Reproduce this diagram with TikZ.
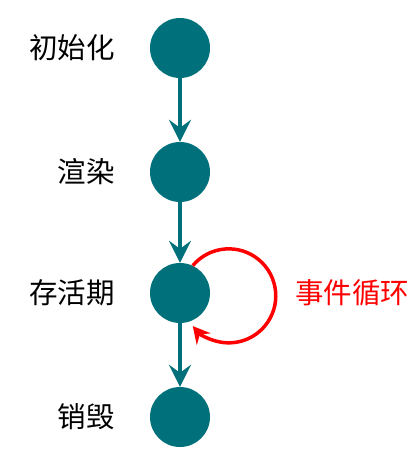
\documentclass[tikz,border=0pt]{standalone}
\usepackage{fontspec}
\newfontfamily\cjk{Noto Sans CJK SC}
\usetikzlibrary{arrows.meta}
\definecolor{stagecol}{HTML}{00717A}
\definecolor{loopcol}{HTML}{FF0000}
\begin{document}
\begin{tikzpicture}[x=1pt,y=-1pt,
  stage/.style={circle, fill=stagecol, minimum size=60pt, inner sep=0pt},
  lbl/.style={anchor=east, inner sep=0pt, font=\cjk\fontsize{28.5}{28.5}\selectfont},
  looplbl/.style={anchor=west, inner sep=0pt, text=loopcol, font=\cjk\fontsize{28.5}{28.5}\selectfont},
  flow/.style={draw=stagecol, line width=4.5pt, -{Stealth[length=22pt,width=22pt,inset=8pt]}},
  loop/.style={draw=loopcol, line width=3.5pt, -{Stealth[length=17pt,width=18pt,inset=6pt]}}]
\useasboundingbox (0,0) rectangle (420,469);

% lifecycle stages
\node[stage] (init)    at (180,48)  {};
\node[stage] (render)  at (180,172) {};
\node[stage] (alive)   at (180,293) {};
\node[stage] (destroy) at (180,417) {};

% stage names
\node[lbl] (tinit)    at (115,48)  {初始化};
\node[lbl] (trender)  at (115,172) {渲染};
\node[lbl] (talive)   at (115,293) {存活期};
\node[lbl] (tdestroy) at (115,417) {销毁};

% transitions
\draw[flow] (init) -- (render);
\draw[flow] (render) -- (alive);
\draw[flow] (alive) -- (destroy);

% event loop on the alive stage (y axis points down, so arc angles run mirrored)
\draw[loop] (alive.65) arc[start angle=-140, end angle=140, radius=47];
\node[looplbl] (tloop) at (295,293) {事件循环};
\end{tikzpicture}
\end{document}
